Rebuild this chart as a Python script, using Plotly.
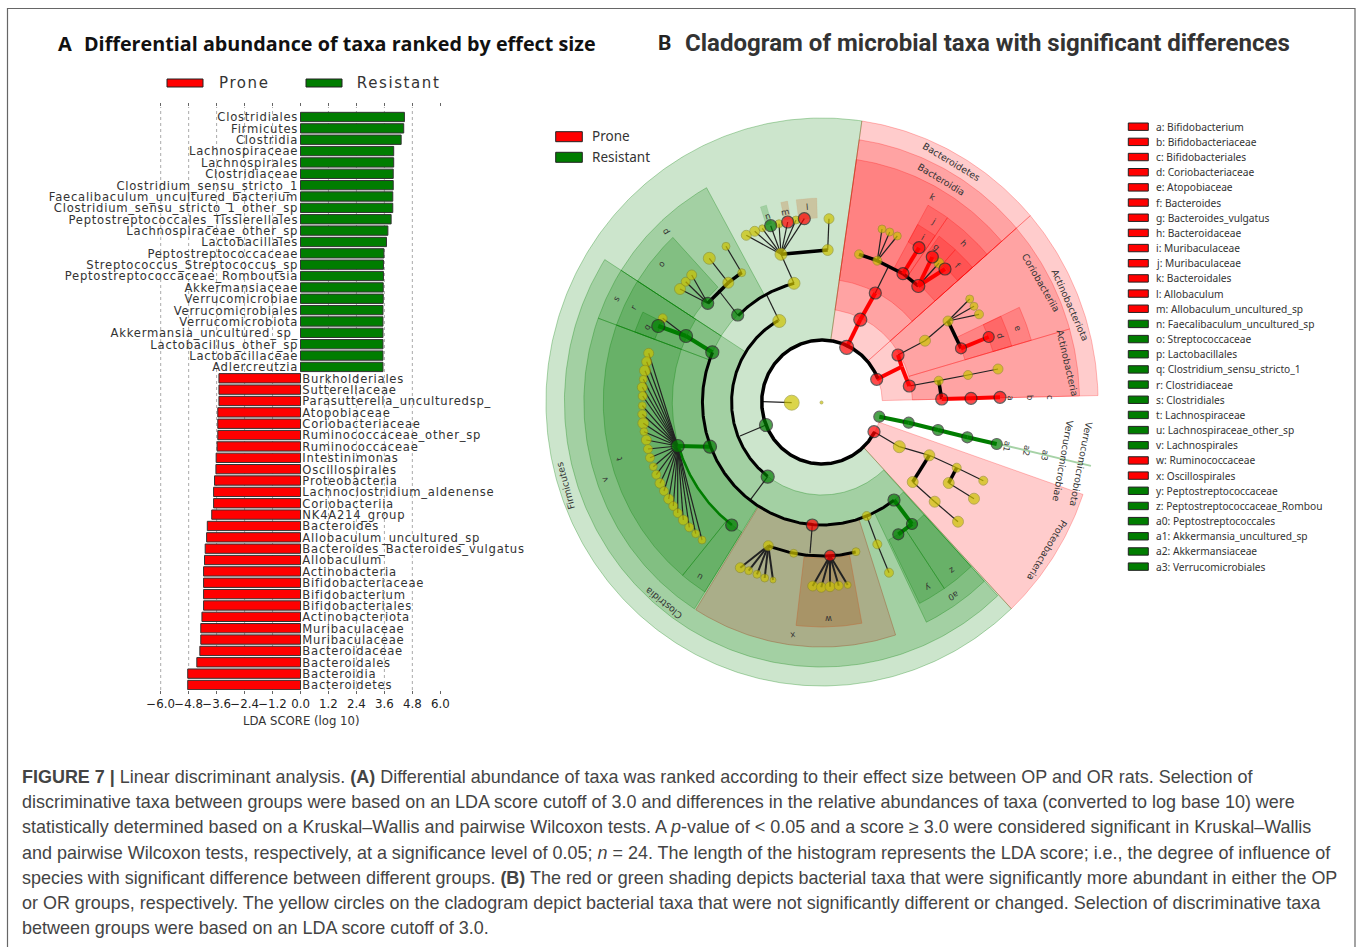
import numpy as np
import plotly.graph_objects as go

# ---------- Panel A data ----------
green_taxa = ["Clostridiales","Firmicutes","Clostridia","Lachnospiraceae","Lachnospirales","Clostridiaceae",
 "Clostridium_sensu_stricto_1","Faecalibaculum_uncultured_bacterium","Clostridium_sensu_stricto_1_other_sp",
 "Peptostreptococcales_Tissierellales","Lachnospiraceae_other_sp","Lactobacillales","Peptostreptococcaceae",
 "Streptococcus_Streptococcus_sp","Peptostreptococcaceae_Romboutsia","Akkermansiaceae","Verrucomicrobiae",
 "Verrucomicrobiales","Verrucomicrobiota","Akkermansia_uncultured_sp_","Lactobacillus_other_sp","Lactobacillaceae","Adlercreutzia"]
green_scores = [4.46,4.43,4.32,4.0,4.0,3.98,3.98,3.96,3.96,3.89,3.75,3.69,3.58,3.56,3.56,3.55,3.55,3.54,3.54,3.54,3.54,3.54,3.54]
red_taxa = ["Burkholderiales","Sutterellaceae","Parasutterella_unculturedsp_","Atopobiaceae","Coriobacteriaceae",
 "Ruminococcaceae_other_sp","Ruminococcaceae","Intestinimonas","Oscillospirales","Proteobacteria","Lachnoclostridium_aldenense",
 "Coriobacteriia","NK4A214_group","Bacteroides","Allobaculum_uncultured_sp","Bacteroides_Bacteroides_vulgatus","Allobaculum",
 "Actinobacteria","Bifidobacteriaceae","Bifidobacterium","Bifidobacteriales","Actinobacteriota","Muribaculaceae","Muribaculaceae ",
 "Bacteroidaceae","Bacteroidales","Bacteroidia","Bacteroidetes"]
red_scores = [-3.50,-3.50,-3.50,-3.55,-3.55,-3.55,-3.58,-3.62,-3.63,-3.69,-3.73,-3.73,-3.81,-4.0,-4.03,-4.09,-4.12,-4.16,-4.16,-4.16,-4.16,-4.23,-4.28,-4.28,-4.32,-4.45,-4.84,-4.84]
tick_vals = [-6,-4.8,-3.6,-2.4,-1.2,0,1.2,2.4,3.6,4.8,6]
tick_text = ["−6.0","−4.8","−3.6","−2.4","−1.2","0.0","1.2","2.4","3.6","4.8","6.0"]
grid_vals = [-6,-4.8,-3.6,-2.4,-1.2,1.2,2.4,3.6,4.8]

# ---------- Panel B data (cladogram) ----------
# wedges, one column each: clade, start and end angle (clockwise from north), inner and outer radius, shade
wedge_name = ["Bacteroidetes","Actinobacteriota","Proteobacteria","Firmicutes","Bacteroidia","Coriobacteriia","Actinobacteria","Clostridia",
              "k","p","s","v","a0","o","r","t","u","q","h","j","i","f","g","y","z","e","d","x","w","n","m","l"]
wedge_t0 = [8.3,49,109,136.7,8.3,49,74,137,8.3,302.5,290,212.4,137,302.5,290,219.6,212.4,290,35,29,29,42,36,146,137,65,65,162,169.5,342,348,352.5]
wedge_t1 = [49,88.7,136.7,368.3,49,74,88.7,302.5,49,331,302.5,290,154,317,302.5,290,219.6,296,49,35,35,49,42,153.5,146,74,74,212,186.8,343.8,350,358.5]
wedge_r0 = [62,62,62,62,93,93,93,93,123,123,123,123,123,157,154,154,154,183,154,154,183,185,185,154,154,153,183,123,156,186,186,184]
wedge_r1 = [284,284,284,284,265,265,265,265,245,245,245,245,245,225,225,225,225,205,225,225,203,205,205,225,225,224,203,245,225,205,204,204]
wedge_c  = ["R","R","R","G","R","R","R","G","R","G","G","G","G","G","G","G","G","G","R","R","R","R","R","G","G","R","R","X","W","n","l","l"]
verruco_t = 103.0

# arcs: radius, start angle, end angle, colour, width
arc_r = [62,93,122,123,154,154]
arc_t0 = [119,217,315,143,167,217]
arc_t1 = [428,331,346.4,293.8,201,253.5]
arc_c = ["#000000","#000000","#000000","#000000","#000000","#007d00"]
arc_w = [3.5,3,3,3,3,2.5]

yellow_ids = ["y_root","y_big"] + [f"y{i}" for i in range(1, 54)]
yellow_x = [821.5,791.7,779.3,794,781,827.7,829,746.3,754.7,762.3,779,796,728.3,741.7,680,685.7,691.7,709.3,726,662.7,859,877.3,882,889.7,897.3,939,925,948,969.7,974,979,938.7,968,998,899.3,929.3,956.7,983.3,912.7,934.7,958,948.7,974,768.3,793.7,856,866.7,877.3,889,740.3,748.7,757,764.7,773,812.7]
yellow_y = [402.5,402.7,321,283.3,254.3,250,218.7,235.3,231.3,228.3,223.7,220,282.7,272.7,289,281.7,275,258.3,246.3,318.3,254.3,260.7,229,232,236,263,340.7,321,299,306.3,314.3,380.7,375,369,446.7,455.3,467.7,480.7,482,501.7,521.7,483,498.7,545.7,553.3,551.7,516,544.3,572.7,567.7,570.7,574.3,578,580,586]
yellow_d = [3,15,13,12,12,11,10,10,10,7,8,8,11,8,11,9,10,12,8,9,9,9,8,8,8,10,11,10,8,8,9,9,9,10,12,11,9,9,11,11,11,11,11,10,8,8,9,9,9,10,8,8,8,6,10]
w_fan_x = [821.3,830,838.7,847.7]
w_fan_y = [587.3,586.7,585.7,585]
w_fan_d = [10,10,9,7]
t_fan_x = [648.7,646.7,645,643.3,642.3,642.7,642.3,642.3,643.3,644,646.3,648,650,653.3,656.3,660,664,668.7,673.3,677.7,683.3,689.3,695.7,702]
t_fan_y = [353.3,361.7,370.7,379.3,387.3,396,405.7,414.3,423.3,431.7,440,449,457.7,466.7,474.7,483.3,491,499,506,513,520,527.3,533.7,540]
t_fan_d = [10,10,11,8,10,9,8,9,11,8,10,9,9,8,9,10,9,10,9,9,10,9,8,8]

red_ids = ["r_bact","r_act","r_pro","r_a1","r_a2","r_a3","r_a4","r_a5","r_a6","r_a7","r_b1","r_b2","r_b3","r_b4","r_b5","r_b6","r_b7","r_b8","r_w","r_x","r_l"]
red_x = [846.7,876.7,874,898,909.3,961,988.7,941.7,971,1000,860.3,875.3,903,918.3,919,932.3,945,787.7,830,812.3,804.3]
red_y = [347.3,379.3,431.7,355,386,348.3,337,399,398.3,397.3,319.7,293,273.7,286,247.7,257,269,222,555.7,525,218.7]
red_d = [14,12,12,12,12,11,11,12,12,12,13,12,12,13,12,12,12,12,11,12,12]

green_ids = ["g_f","g_s","g_c1","g_c2","g_n","g_p","g_o","g_v1","g_v2","g_u","g_a","g_z","g_y","g_1","g_2","g_3","g_4","g_5","g_cl"]
green_x = [766,712.3,686,658.3,770.7,737.7,707.7,710,677.7,731.7,894,912,898.3,879.3,908.7,938,967.3,996.7,767.7]
green_y = [425,352.3,336,326,225.7,315,303.3,446.7,446,525,500,524,534.3,416.7,422.7,430,437.3,444,476.7]
green_d = [13,13,13,13,12,12,12,13,13,12,12,11,11,11,11,11,11,11,13]

joint_ids = ["j_act","j_cl1","j_cl2","j_up","j_fam","j_k","j_in","j_p"]
joint_x = [901.7,740,750.7,766.7,810,888.3,762.7,718.3]
joint_y = [366.7,436,499.3,295,553.3,266.7,401.7,290]

edges_thin = [("y_big","j_in"),("g_f","j_cl1"),("g_cl","j_cl2"),("r_x","j_fam"),("y1","j_up"),("y3","y2"),("y4","y5"),
 ("y3","y6"),("y3","y7"),("y3","y8"),("y3","g_n"),("y3","y9"),("y3","r_b8"),("y3","y10"),("y3","r_l"),
 ("g_p","j_p"),("g_o","y13"),("g_o","y14"),("g_o","y15"),("y11","y16"),("y12","y17"),("g_c1","y18"),
 ("r_b2","j_k"),("y20","y21"),("y20","y22"),("y20","y23"),("r_b4","y24"),
 ("r_a1","y25"),("y25","y26"),("y26","y27"),("y26","y28"),("y26","y29"),("r_a2","y30"),("y30","y31"),("y31","y32"),
 ("r_pro","y33"),("y33","y34"),("y34","y35"),("y35","y36"),("y37","y38"),("y38","y39"),("y40","y41"),
 ("y45","y46"),("y46","y47")]
edges_black = [("y3","y4"),("g_o","y11"),("y11","y12"),("y19","y20"),("y20","r_b3"),("r_b3","r_b4"),("y26","r_a3"),("y30","r_a5"),("y34","y37"),("y35","y40")]
edges_red = [("r_act","j_act"),("j_act","r_a1"),("j_act","r_a2"),("r_a3","r_a4"),("r_a5","r_a6"),("r_a6","r_a7"),
 ("r_bact","r_b1"),("r_b1","r_b2"),("r_b3","r_b5"),("r_b4","r_b6"),("r_b4","r_b7")]
edges_green = [("g_s","g_c1"),("g_c1","g_c2"),("g_v1","g_v2"),("g_a","g_z"),("g_z","g_y"),("g_1","g_2"),("g_2","g_3"),("g_3","g_4"),("g_4","g_5")]

# rotated clade labels
clade_text = ["Bacteroidetes","Bacteroidia","Actinobacteriota","Coriobacteriia","Actinobacteria","Verrucomicrobiota","Verrucomicrobiae","Proteobacteria","Firmicutes","Clostridia"]
clade_x = [951,941.7,1070.7,1040.7,1068,1081.7,1063,1046.7,565,663.3]
clade_y = [161.7,179,305,282.7,363,464,460.7,550.7,486,603.3]
clade_a = [31,31,66,60,77,101,100,121,-105,-141]
small_text = ["a","b","c","a1","a2","a3","e","d","f","h","g","i","j","k","l","m","n","p","o","s","r","q","t","v","u","x","w","y","z","a0"]
small_x = [1010.7,1030,1050,1007,1026.7,1045,1017.7,1000,958.3,963.3,936.7,922.7,933.3,932.7,807.3,785,767.7,666,661.3,616.7,634,646.7,619.3,605,700,793.3,829,927.7,952.3,953.3]
small_y = [398,397,397,446,451,455,328.3,335,265.7,243.3,246.7,236.7,221,196.7,206.7,211.7,215.7,232.3,264,298.3,307.3,326.7,458.3,480,577.7,635.7,618.3,587.3,570.7,596]
small_a = [88,88,88,100,100,100,70,70,45,45,40,30,30,30,-5,-12,-17,-120,-45,-60,-60,-60,-105,-115,-150,172,180,155,145,150]

legend_labels = ["a: Bifidobacterium","b: Bifidobacteriaceae","c: Bifidobacteriales","d: Coriobacteriaceae","e: Atopobiaceae","f: Bacteroides","g: Bacteroides_vulgatus","h: Bacteroidaceae","i: Muribaculaceae","j: Muribaculaceae","k: Bacteroidales","l: Allobaculum","m: Allobaculum_uncultured_sp","n: Faecalibaculum_uncultured_sp","o: Streptococcaceae","p: Lactobacillales","q: Clostridium_sensu_stricto_1","r: Clostridiaceae","s: Clostridiales","t: Lachnospiraceae","u: Lachnospiraceae_other_sp","v: Lachnospirales","w: Ruminococcaceae","x: Oscillospirales","y: Peptostreptococcaceae","z: Peptostreptococcaceae_Rombou","a0: Peptostreptococcales","a1: Akkermansia_uncultured_sp","a2: Akkermansiaceae","a3: Verrucomicrobiales"]
legend_groups = "RRRRRRRRRRRRRGGGGGGGGGRRGGGGGG"

caption_lines = [
 "<b>FIGURE 7 |</b> Linear discriminant analysis. <b>(A)</b> Differential abundance of taxa was ranked according to their effect size between OP and OR rats. Selection of",
 "discriminative taxa between groups were based on an LDA score cutoff of 3.0 and differences in the relative abundances of taxa (converted to log base 10) were",
 "statistically determined based on a Kruskal–Wallis and pairwise Wilcoxon tests. A <i>p</i>-value of &lt; 0.05 and a score ≥ 3.0 were considered significant in Kruskal–Wallis",
 "and pairwise Wilcoxon tests, respectively, at a significance level of 0.05; <i>n</i> = 24. The length of the histogram represents the LDA score; i.e., the degree of influence of",
 "species with significant difference between different groups. <b>(B)</b> The red or green shading depicts bacterial taxa that were significantly more abundant in either the OP",
 "or OR groups, respectively. The yellow circles on the cladogram depict bacterial taxa that were not significantly different or changed. Selection of discriminative taxa",
 "between groups were based on an LDA score cutoff of 3.0."]
caption_y = [776.7,801.7,827.3,852.7,878.3,903.3,928.3]

# ---------- helpers ----------
RED, GREEN = "#ff0000", "#007d00"
CX, CY, SX = 822, 402, 0.972
WEDGE_FILL = {"R":"rgba(255,0,0,0.2)","G":"rgba(0,125,0,0.2)","X":"#aaae89","W":"#a89467",
              "n":"rgba(0,125,0,0.2)","l":"rgba(200,120,60,0.3)"}
WEDGE_EDGE = {"R":"rgba(255,0,0,0.25)","G":"rgba(0,125,0,0.3)","X":"rgba(160,100,60,0.5)","W":"rgba(190,110,60,0.5)",
              "n":"rgba(0,125,0,0.1)","l":"rgba(200,120,60,0.1)"}

def polar(r, deg):
    a = np.radians(deg)
    return CX + SX * r * np.sin(a), CY - r * np.cos(a)

def wedge_path(r0, r1, t0, t1):
    n = max(4, int(abs(t1 - t0) * 1.5))
    ang = np.linspace(t0, t1, n)
    xo, yo = polar(r1, ang)
    xi, yi = polar(r0, ang[::-1])
    return np.r_[xo, xi, xo[0]], np.r_[yo, yi, yo[0]]

fig = go.Figure()

# Panel A bars
taxa = green_taxa + red_taxa
for xs_, names, col in ((green_scores, green_taxa, GREEN), (red_scores, red_taxa, RED)):
    fig.add_trace(go.Bar(x=xs_, y=names, orientation="h", width=0.82, marker=dict(color=col, line=dict(color="#333", width=1)),
                         showlegend=False, hoverinfo="x+y", name="Resistant" if col == GREEN else "Prone"))
label_font = dict(family="DejaVu Sans", size=11.6, color="#333")
fig.add_trace(go.Scatter(x=[-0.1]*len(green_taxa), y=green_taxa, text=green_taxa, mode="text", textposition="middle left",
                         textfont=label_font, showlegend=False, hoverinfo="skip", cliponaxis=False))
fig.add_trace(go.Scatter(x=[0.08]*len(red_taxa), y=red_taxa, text=[t.strip() for t in red_taxa], mode="text", textposition="middle right",
                         textfont=label_font, showlegend=False, hoverinfo="skip", cliponaxis=False))

# Panel B wedges
for i in range(len(wedge_name)):
    wx, wy = wedge_path(wedge_r0[i], wedge_r1[i], wedge_t0[i], wedge_t1[i])
    key = wedge_c[i]
    fig.add_trace(go.Scatter(x=wx, y=wy, xaxis="x2", yaxis="y2", mode="lines", fill="toself", fillcolor=WEDGE_FILL[key], name=wedge_name[i],
                             line=dict(color=WEDGE_EDGE[key], width=1), showlegend=False, hoverinfo="skip"))
vx, vy = polar(np.array([190.0, 284.0]), np.array([verruco_t, verruco_t]))
fig.add_trace(go.Scatter(x=vx, y=vy, xaxis="x2", yaxis="y2", mode="lines", line=dict(color="rgba(0,125,0,0.35)", width=2),
                         showlegend=False, hoverinfo="skip"))

# Node lookup for the edges
ids = list(yellow_ids) + [f"yw{i}" for i in range(len(w_fan_x))] + [f"yt{i}" for i in range(len(t_fan_x))] + red_ids + green_ids + joint_ids
xs = yellow_x + w_fan_x + t_fan_x + red_x + green_x + joint_x
ys = yellow_y + w_fan_y + t_fan_y + red_y + green_y + joint_y
pos = {k: (a, b) for k, a, b in zip(ids, xs, ys)}

def add_edges(pairs, col, width):
    ex, ey = [], []
    for a, b in pairs:
        ex += [pos[a][0], pos[b][0], None]
        ey += [pos[a][1], pos[b][1], None]
    fig.add_trace(go.Scatter(x=ex, y=ey, xaxis="x2", yaxis="y2", mode="lines", line=dict(color=col, width=width),
                             showlegend=False, hoverinfo="skip"))

fan_edges = [("g_v2", f"yt{i}") for i in range(len(t_fan_x))]
fan_x = [("y42", f"y{i}") for i in range(48, 53)]
fan_w = [("r_w", "y53")] + [("r_w", f"yw{i}") for i in range(len(w_fan_x))]
add_edges(edges_thin + fan_edges, "#222", 1.2)
add_edges(fan_x + fan_w, "#222", 2)
add_edges(edges_black, "#000", 3.5)
add_edges(edges_red, RED, 4)
add_edges(edges_green, GREEN, 4)
for r, a0, a1, c, w in zip(arc_r, arc_t0, arc_t1, arc_c, arc_w):
    ang = np.linspace(a0, a1, max(6, int((a1 - a0) * 1.5)))
    ax_, ay_ = polar(r, ang)
    fig.add_trace(go.Scatter(x=ax_, y=ay_, xaxis="x2", yaxis="y2", mode="lines", line=dict(color=c, width=w),
                             showlegend=False, hoverinfo="skip"))

fig.add_trace(go.Scatter(x=yellow_x + w_fan_x + t_fan_x, y=yellow_y + w_fan_y + t_fan_y, xaxis="x2", yaxis="y2", mode="markers",
                         marker=dict(size=yellow_d + w_fan_d + t_fan_d, color="#cdc400", line=dict(color="#8c8a20", width=0.8)),
                         showlegend=False, hoverinfo="skip"))
fig.add_trace(go.Scatter(x=red_x, y=red_y, xaxis="x2", yaxis="y2", mode="markers",
                         marker=dict(size=red_d, color=RED, line=dict(color="#222", width=1.2)), showlegend=False, hoverinfo="skip"))
fig.add_trace(go.Scatter(x=green_x, y=green_y, xaxis="x2", yaxis="y2", mode="markers",
                         marker=dict(size=green_d, color=GREEN, line=dict(color="#222", width=1.2)), showlegend=False, hoverinfo="skip"))

# ---------- text and legends ----------
ann = []
def note(text, x, y, size, family="DejaVu Sans", color="#333", angle=0, anchor="left"):
    ann.append(dict(text=text, x=x, y=y, xref="x2", yref="y2", showarrow=False, xanchor=anchor, yanchor="middle",
                    font=dict(family=family, size=size, color=color), textangle=angle, borderpad=0, borderwidth=0))

note("<b>A</b>", 58, 43, 20, "Open Sans", "#111")
note("<b>Differential abundance of taxa ranked by effect size</b>", 84, 43, 19.75, "Open Sans", "#111")
note("<b>B</b>", 658, 43, 21, "Roboto", "#222")
note("<b>Cladogram of microbial taxa with significant differences</b>", 685, 43, 24.04, "Roboto", "#333")
note("LDA SCORE (log 10)", 301, 721, 11.7, anchor="center")
note("Prone", 223, 83, 15)
note("Resistant", 364, 83, 15)
note("Prone", 592, 136, 13.5, "Noto Sans")
note("Resistant", 592, 157, 13.5, "Noto Sans")
for t, x, y, a in zip(clade_text, clade_x, clade_y, clade_a):
    note(t, x, y, 9.4, "DejaVu Sans", "#333", a, "center")
for t, x, y, a in zip(small_text, small_x, small_y, small_a):
    note(t, x, y, 8.5, "DejaVu Sans", "#333", a, "center")
for i, t in enumerate(legend_labels):
    note(t, 1155.7, 126.7 + 15.17 * i, 10.2, "Noto Sans", "#333")
for t, y in zip(caption_lines, caption_y):
    note(t, 22.3, y, 17.97, "Liberation Sans", "#444")

shapes = []
def rect(x0, y0, x1, y1, col):
    shapes.append(dict(type="rect", xref="x2", yref="y2", x0=x0, y0=y0, x1=x1, y1=y1, fillcolor=col, line=dict(color="#222", width=1)))
rect(167, 79, 203, 87, RED); rect(306, 79, 342, 87, GREEN)
rect(555.7, 131.7, 582.3, 141.7, RED); rect(555.7, 152.3, 582.3, 162.3, GREEN)
for i, g in enumerate(legend_groups):
    yc = 126.7 + 15.17 * i
    rect(1128.3, yc - 3.7, 1148.3, yc + 3.7, RED if g == "R" else GREEN)
shapes.append(dict(type="path", xref="x2", yref="y2", path="M 7.5 947 L 7.5 8.5 L 1355 8.5 L 1355 947", line=dict(color="#666", width=1.2), fillcolor="rgba(0,0,0,0)"))
for g in grid_vals:
    shapes.append(dict(type="line", layer="below", xref="x", yref="y domain", x0=g, x1=g, y0=0, y1=1, line=dict(color="#aaa", width=1, dash="dot")))

Z0, PX = 300.5, 23.3
fig.update_layout(
    width=1358, height=947, margin=dict(l=0, r=0, t=0, b=0, autoexpand=False), paper_bgcolor="white", plot_bgcolor="rgba(0,0,0,0)",
    showlegend=False, bargap=0.18, annotations=ann, shapes=shapes, hovermode="closest",
    xaxis=dict(domain=[158/1358, 446/1358], range=[(158-Z0)/PX, (446-Z0)/PX], tickmode="array", tickvals=tick_vals, ticktext=tick_text,
               tickangle=0, ticks="outside", ticklen=3, tickcolor="#666", mirror="ticks", showline=False, showgrid=False, zeroline=False,
               tickfont=dict(family="DejaVu Sans", size=11.8, color="#222"), anchor="y", fixedrange=True, automargin=False),
    yaxis=dict(domain=[1-690/947, 1-107/947], type="category", categoryorder="array", categoryarray=taxa,
               range=[50+(690-685)/11.36, -(117-107)/11.36], visible=False, anchor="x", fixedrange=True),
    xaxis2=dict(domain=[0, 1], range=[0, 1358], visible=False, anchor="y2", fixedrange=True),
    yaxis2=dict(domain=[0, 1], range=[947, 0], visible=False, anchor="x2", fixedrange=True),
)
page_js = """
document.body.style.margin='0';document.body.style.overflow='hidden';
document.querySelectorAll('.textpoint text').forEach(function(t){t.style.letterSpacing='0.75px';t.style.transform='translateY(1.5px)';});
document.querySelectorAll('.annotation-text').forEach(function(t){if(t.style.fontSize==='15px'){t.style.letterSpacing='1.6px';}});
"""
fig.write_html("out.html", config=dict(displayModeBar=False), post_script=page_js)
